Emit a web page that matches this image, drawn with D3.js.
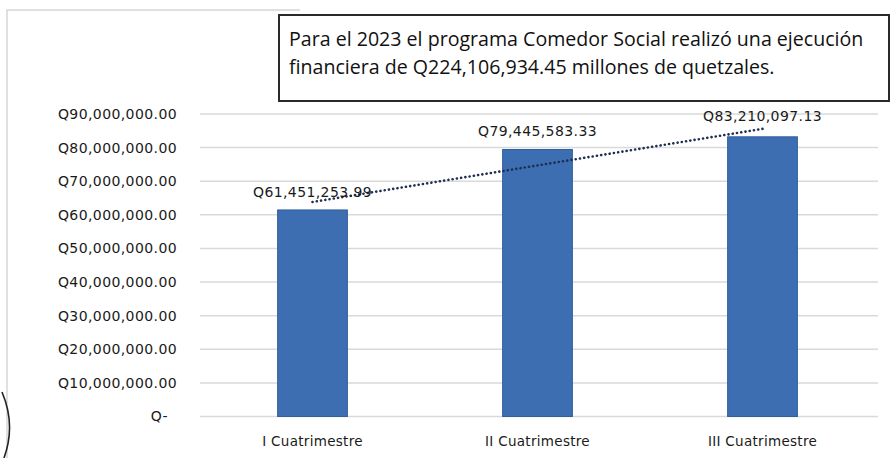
<!DOCTYPE html>
<html><head><meta charset="utf-8">
<script src="https://cdn.jsdelivr.net/npm/d3@7"></script>
<style>
html,body{margin:0;padding:0;background:#fff;}
svg{display:block;}
</style></head>
<body>
<script>
const categories = ["I Cuatrimestre", "II Cuatrimestre", "III Cuatrimestre"];
const values = [61451253.99, 79445583.33, 83210097.13];
const valueLabels = ["Q61,451,253.99", "Q79,445,583.33", "Q83,210,097.13"];
const tickValues = [0, 10000000, 20000000, 30000000, 40000000, 50000000, 60000000, 70000000, 80000000, 90000000];
const tickLabels = ["Q-", "Q10,000,000.00", "Q20,000,000.00", "Q30,000,000.00", "Q40,000,000.00", "Q50,000,000.00", "Q60,000,000.00", "Q70,000,000.00", "Q80,000,000.00", "Q90,000,000.00"];
const noteLines = ["Para el 2023 el programa Comedor Social realizó una ejecución",
                   "financiera de Q224,106,934.45 millones de quetzales."];

const W = 892, H = 458;
const svg = d3.select("body").append("svg").attr("width", W).attr("height", H);

// chart area border (scan)
svg.append("path").attr("d", "M7,458 L7,10 L300,10")
  .attr("fill", "none").attr("stroke", "#d6d6d6").attr("stroke-width", 1.5);

const x = d3.scaleBand().domain(categories).range([200, 875]).paddingInner(0.69).paddingOuter(0.345);
const y = d3.scaleLinear().domain([0, 90000000]).range([416.5, 114]);

// gridlines
svg.append("g").selectAll("line").data(tickValues).join("line")
  .attr("x1", 200).attr("x2", 878)
  .attr("y1", d => y(d)).attr("y2", d => y(d))
  .attr("stroke", "#d9d9d9").attr("stroke-width", 1.5);

// y axis
const yAxis = d3.axisLeft(y).tickValues(tickValues).tickSize(0).tickPadding(0)
  .tickFormat((d, i) => tickLabels[i]);
const gy = svg.append("g").attr("transform", "translate(177,0)").call(yAxis);
gy.select(".domain").remove();
gy.selectAll("text")
  .attr("font-family", "DejaVu Sans").attr("font-size", 14).attr("fill", "#1a1a1a")
  .style("letter-spacing", "0.4px")
  .attr("dx", d => d === 0 ? -9 : 0);

// bars
svg.append("g").selectAll("rect").data(values).join("rect")
  .attr("x", (d, i) => x(categories[i]))
  .attr("width", x.bandwidth())
  .attr("y", d => y(d))
  .attr("height", d => y(0) - y(d))
  .attr("fill", "#3d6eb2").attr("stroke", "#2f5f9f").attr("stroke-width", 1);

// x axis labels
const xAxis = d3.axisBottom(x).tickSize(0).tickPadding(0);
const gx = svg.append("g").attr("transform", "translate(0,436)").call(xAxis);
gx.select(".domain").remove();
gx.selectAll("text")
  .attr("font-family", "DejaVu Sans").attr("font-size", 13.5).attr("fill", "#1a1a1a")
  .style("letter-spacing", "0.3px");

// trendline (linear least squares, as a spreadsheet trendline)
const xs = values.map((d, i) => i + 1);
const mx = d3.mean(xs), my = d3.mean(values);
const slope = d3.sum(xs.map((xi, i) => (xi - mx) * (values[i] - my))) / d3.sum(xs.map(xi => (xi - mx) ** 2));
const icpt = my - slope * mx;
const cx = i => x(categories[i]) + x.bandwidth() / 2;
const trend = [0, categories.length - 1].map(i => [cx(i), y(icpt + slope * (i + 1))]);
svg.append("path").attr("d", d3.line()(trend))
  .attr("fill", "none").attr("stroke", "#1e2f52").attr("stroke-width", 2.6)
  .attr("stroke-linecap", "round").attr("stroke-dasharray", "0.1,4.2");

// data labels
svg.append("g").selectAll("text").data(values).join("text")
  .attr("x", (d, i) => cx(i))
  .attr("y", (d, i) => y(d) - (i === 2 ? 16 : 13))
  .attr("text-anchor", "middle")
  .attr("font-family", "DejaVu Sans").attr("font-size", 14).attr("fill", "#1a1a1a")
  .style("letter-spacing", "0.4px")
  .text((d, i) => valueLabels[i]);

// note box
svg.append("rect").attr("x", 279).attr("y", 15).attr("width", 610).attr("height", 86)
  .attr("fill", "#fff").attr("stroke", "#2a2a2a").attr("stroke-width", 2);
svg.append("g").selectAll("text").data(noteLines).join("text")
  .attr("x", 289).attr("y", (d, i) => 46 + i * 28)
  .attr("font-family", "Open Sans").attr("font-size", 19.6).attr("fill", "#111")
  .text(d => d);

// stamp arc at bottom-left (scan)
svg.append("path").attr("d", "M2,392 Q16,425 4,458")
  .attr("fill", "none").attr("stroke", "#222").attr("stroke-width", 1.6);
</script>
</body></html>
